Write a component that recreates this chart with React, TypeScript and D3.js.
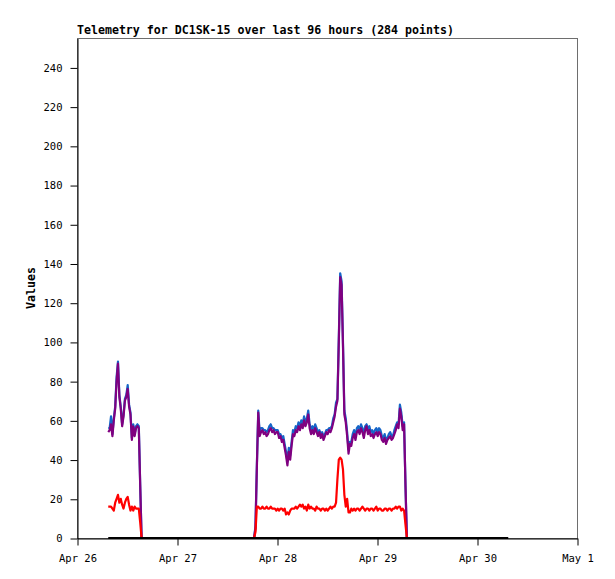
import React, { useEffect, useRef } from 'react';
import * as d3 from 'd3';

// sampling: one reading every 20 minutes inside each active stretch
const stepMinutes = 20;
const segmentStarts: string[] = ['2024-04-26T07:30:00Z', '2024-04-27T18:30:00Z'];

const blueSeg1: number[] = [56, 56, 62, 53, 61, 67, 82, 90, 73, 67, 58, 63, 71, 73, 78, 68, 64, 51, 58, 53, 57, 58, 57, 27, 0];
const purpleSeg1: number[] = [54, 55, 58, 52, 60, 66, 80, 89, 72, 66, 57, 62, 70, 72, 76, 67, 63, 50, 57, 52, 56, 57, 56, 27, 0];
const redSeg1: number[] = [16, 16, 16, 15, 14, 18, 20, 22, 18, 20, 17, 15, 18, 20, 21, 17, 14, 16, 14, 16, 15, 15, 15, 8, 0];

const blueSeg2: number[] = [
    0, 6, 37, 65, 54, 56, 56, 55, 55, 54,
    55, 57, 58, 56, 56, 55, 55, 55, 53, 53,
    51, 52, 48, 44, 39, 46, 42, 49, 55, 54,
    57, 56, 59, 57, 60, 58, 62, 59, 61, 65,
    58, 55, 57, 55, 58, 56, 54, 55, 53, 54,
    52, 53, 55, 55, 56, 56, 57, 61, 63, 69,
    71, 102, 135, 131, 100, 65, 61, 54, 45, 49,
    49, 53, 55, 52, 56, 57, 55, 58, 56, 53,
    57, 58, 55, 57, 54, 55, 53, 55, 56, 54,
    56, 55, 52, 51, 53, 50, 51, 53, 54, 52,
    52, 55, 57, 59, 58, 68, 64, 57, 59, 27,
    0,
];
const purpleSeg2: number[] = [
    0, 5, 36, 64, 52, 54, 55, 53, 54, 52,
    53, 55, 56, 54, 55, 53, 54, 54, 51, 52,
    49, 50, 46, 42, 37, 44, 40, 47, 53, 52,
    55, 54, 57, 55, 58, 56, 60, 57, 59, 63,
    56, 53, 55, 53, 56, 54, 52, 54, 51, 53,
    50, 52, 54, 53, 55, 54, 56, 59, 62, 67,
    70, 100, 133, 129, 98, 63, 59, 52, 43, 48,
    47, 51, 53, 50, 54, 55, 53, 56, 54, 51,
    55, 57, 53, 55, 52, 53, 51, 53, 54, 52,
    54, 53, 50, 49, 51, 48, 50, 51, 52, 50,
    51, 53, 55, 58, 56, 66, 62, 55, 58, 27,
    0,
];
const redSeg2: number[] = [
    0, 3, 16, 16, 15, 15, 16, 15, 15, 16,
    15, 15, 16, 15, 15, 15, 14, 15, 14, 15,
    15, 14, 15, 12, 13, 12, 14, 15, 15, 15,
    16, 15, 16, 17, 16, 17, 15, 16, 14, 17,
    15, 16, 15, 15, 14, 16, 15, 15, 14, 15,
    15, 14, 15, 14, 15, 16, 15, 16, 16, 18,
    30, 40, 41, 40, 35, 22, 16, 20, 13, 13,
    15, 14, 15, 14, 15, 15, 14, 15, 16, 15,
    14, 15, 15, 14, 15, 15, 14, 15, 16, 14,
    15, 15, 14, 14, 15, 15, 14, 15, 15, 14,
    15, 15, 16, 15, 16, 16, 14, 15, 14, 7,
    0,
];

// flat series at zero across the whole 96 hour window
const zeroTimes: string[] = ['2024-04-26T07:30:00Z', '2024-04-30T07:30:00Z'];
const zeroValues: number[] = [0, 0];

const yTicks: number[] = [0, 20, 40, 60, 80, 100, 120, 140, 160, 180, 200, 220, 240];
const xDomain: string[] = ['2024-04-26T00:00:00Z', '2024-05-01T00:00:00Z'];

type Pt = { t: Date; v: number };

const toPoints = (segs: number[][]): Pt[] => {
    const out: Pt[] = [];
    segs.forEach((vals, s) => {
        const start = new Date(segmentStarts[s]).getTime();
        vals.forEach((v, i) => out.push({ t: new Date(start + i * stepMinutes * 60000), v }));
    });
    return out;
};

const App: React.FC = () => {
    const ref = useRef<SVGSVGElement | null>(null);

    useEffect(() => {
        const svgEl = ref.current;
        if (!svgEl) return;
        const svg = d3.select(svgEl);
        svg.selectAll('*').remove();

        const left = 77, right = 577, top = 38, bottom = 538;
        const mono = '"DejaVu Sans Mono", monospace';

        const x = d3.scaleUtc()
            .domain(xDomain.map((d) => new Date(d)))
            .range([left, right]);
        const y = d3.scaleLinear().domain([0, 255]).range([bottom, top]);

        // frame: top/right grey, left/bottom black
        svg.append('rect')
            .attr('x', left + 0.5).attr('y', top + 0.5)
            .attr('width', right - left).attr('height', bottom - top)
            .attr('fill', 'none').attr('stroke', '#6e6e6e');

        const yAxis = svg.append('g')
            .attr('transform', `translate(${left + 0.5},0.5)`)
            .call(d3.axisLeft(y).tickValues(yTicks).tickSize(7).tickPadding(8).tickSizeOuter(0));
        const xAxis = svg.append('g')
            .attr('transform', `translate(0.5,${bottom + 0.5})`)
            .call(d3.axisBottom(x)
                .ticks(d3.utcDay.every(1))
                .tickFormat((d) => d3.utcFormat('%b %-d')(d as Date))
                .tickSize(7).tickPadding(9).tickSizeOuter(0));

        [yAxis, xAxis].forEach((g) => {
            g.select('.domain').attr('stroke', '#000');
            g.selectAll('line').attr('stroke', '#000');
            g.selectAll('text')
                .attr('font-family', mono)
                .attr('font-size', '10.5px')
                .attr('fill', '#000');
        });

        const line = d3.line<Pt>().x((d) => x(d.t)).y((d) => y(d.v));

        const series: { pts: Pt[]; color: string }[] = [
            { pts: toPoints([blueSeg1, blueSeg2]), color: '#1565c8' },
            { pts: toPoints([purpleSeg1, purpleSeg2]), color: '#800080' },
            { pts: toPoints([redSeg1, redSeg2]), color: '#ff0000' },
            { pts: zeroTimes.map((t, i) => ({ t: new Date(t), v: zeroValues[i] })), color: '#000000' },
        ];

        series.forEach((s) => {
            svg.append('path')
                .datum(s.pts)
                .attr('d', line)
                .attr('fill', 'none')
                .attr('stroke', s.color)
                .attr('stroke-width', 2.2)
                .attr('stroke-linejoin', 'round');
        });

        svg.append('text')
            .attr('x', left)
            .attr('y', 34)
            .attr('font-family', mono)
            .attr('font-weight', 'bold')
            .attr('font-size', '11.6px')
            .text('Telemetry for DC1SK-15 over last 96 hours (284 points)');

        svg.append('text')
            .attr('transform', `translate(35,${(top + bottom) / 2}) rotate(-90)`)
            .attr('text-anchor', 'middle')
            .attr('font-family', mono)
            .attr('font-weight', 'bold')
            .attr('font-size', '11.6px')
            .text('Values');
    }, []);

    return (
        <svg
            ref={ref}
            width={615}
            height={579}
            style={{ position: 'absolute', left: 0, top: 0, background: '#fff' }}
        />
    );
};

export default App;
